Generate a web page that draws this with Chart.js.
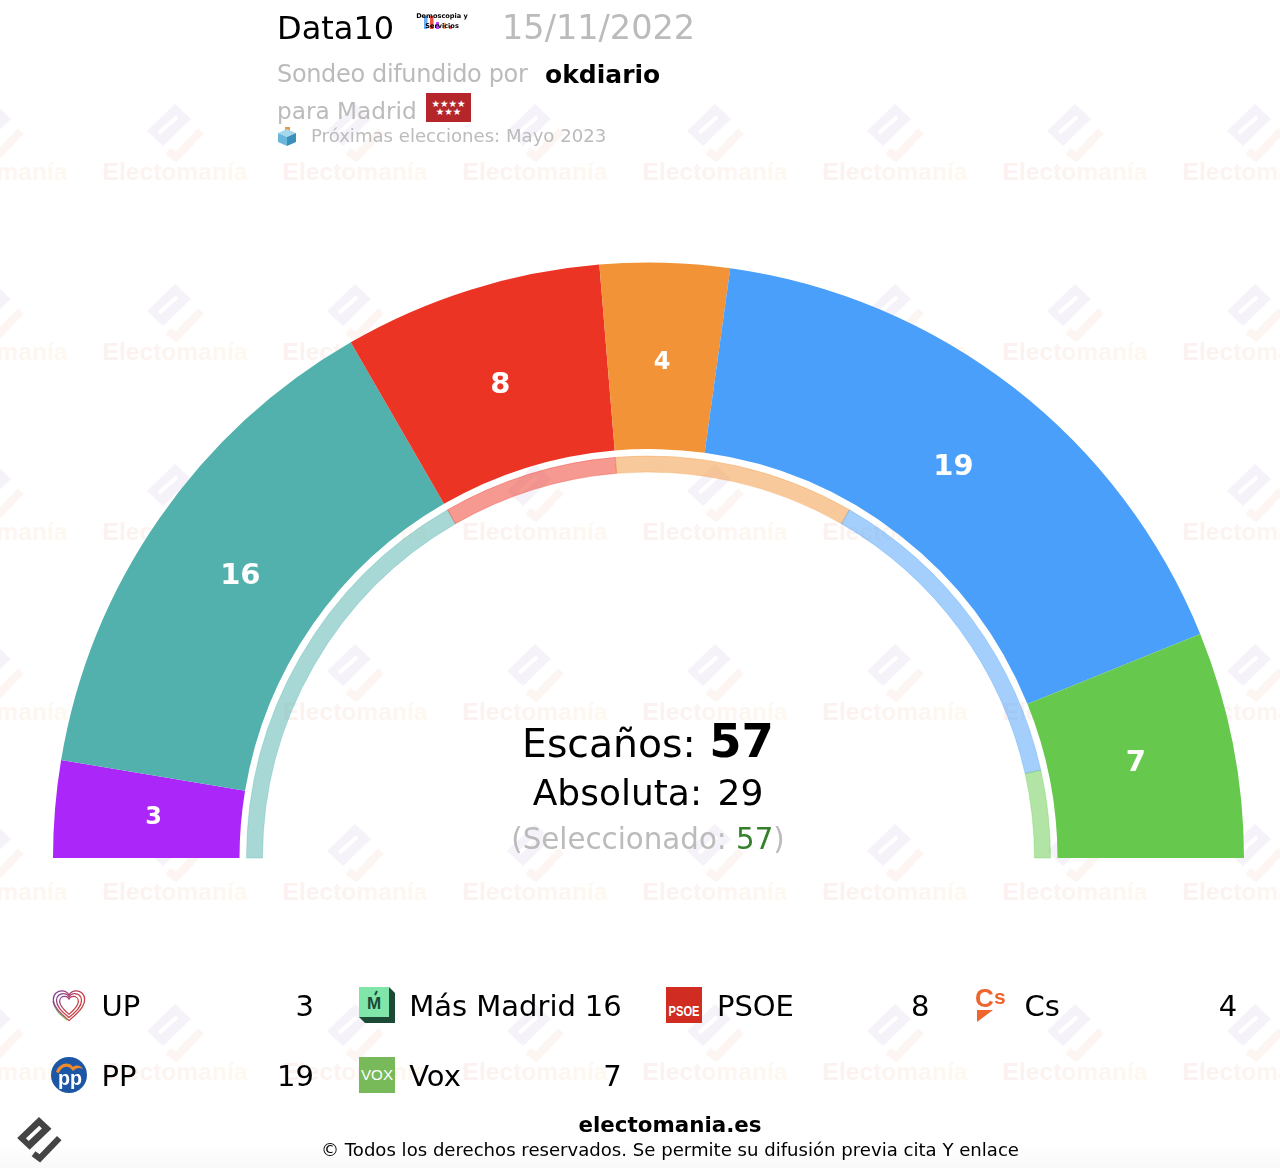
<!DOCTYPE html>
<html lang="es"><head><meta charset="utf-8">
<script src="https://cdn.jsdelivr.net/npm/chart.js@4"></script>
<style>
html,body{margin:0;padding:0;background:#fff;width:1280px;height:1168px;overflow:hidden;font-family:"DejaVu Sans",sans-serif}
#stage{position:relative;width:1280px;height:1168px;overflow:hidden}
#fade{position:absolute;left:0;right:0;bottom:0;height:26px;background:linear-gradient(#ffffff00,#f9f9f9)}
svg.bg,canvas{position:absolute;left:0;top:0}
.t{position:absolute;line-height:1;white-space:nowrap;color:#000}
.g{color:#bbb}
.c{transform:translateX(-50%)}
.r{transform:translateX(-100%)}
svg.i{position:absolute;overflow:visible}
</style></head><body>
<div id="stage">
<svg class="bg" id="wm" width="1280" height="1168"></svg>
<div id="fade"></div>
<canvas id="chart" width="1280" height="1168" style="width:1280px;height:1168px"></canvas>

<div class="t" style="left:277px;top:12px;font-size:32px">Data10</div>
<svg class="i" style="left:416px;top:10px" width="52" height="28" viewBox="0 0 52 28">
 <g opacity=".85"><rect x="8" y="6" width="3.5" height="13" fill="#499ff9"/><rect x="14" y="6" width="3.5" height="13" fill="#ec3424"/>
 <rect x="20" y="12" width="3" height="7" fill="#a927f9"/><rect x="27" y="13" width="3" height="6" fill="#f29337"/><rect x="33" y="16" width="3" height="3" fill="#ec3424"/></g>
 <text x="26" y="8" font-size="6.6" font-weight="bold" text-anchor="middle" font-family="DejaVu Sans">Demoscopia y</text>
 <text x="26" y="17.5" font-size="6.6" font-weight="bold" text-anchor="middle" font-family="DejaVu Sans">Servicios</text>
</svg>
<div class="t g" style="left:502px;top:11px;font-size:33.5px">15/11/2022</div>
<div class="t g" style="left:277px;top:62px;font-size:24px;letter-spacing:-.35px">Sondeo difundido por</div>
<div class="t" style="left:545px;top:62px;font-size:25px;font-weight:bold">okdiario</div>
<div class="t g" style="left:277px;top:99px;font-size:23.2px">para Madrid</div>
<svg class="i" style="left:426px;top:93px" width="45" height="29" viewBox="0 0 45 29">
 <rect width="45" height="29" fill="#b5262a"/>
 <text x="22.5" y="14" font-size="9.5" fill="#fff" text-anchor="middle" font-family="DejaVu Sans">★★★★</text>
 <text x="22.5" y="22" font-size="9.5" fill="#fff" text-anchor="middle" font-family="DejaVu Sans">★★★</text>
</svg>
<svg class="i" style="left:277px;top:127px" width="21" height="20" viewBox="0 0 21 20">
 <rect x="8" y="0" width="5" height="8" fill="#ee9a3a"/>
 <polygon points="1,6 10,2 19,6 10,10" fill="#a5d8ec"/><polygon points="1,6 10,10 10,19 1,15" fill="#6bb7dc"/><polygon points="19,6 10,10 10,19 19,15" fill="#3b8fbb"/>
</svg>
<div class="t g" style="left:311px;top:127px;font-size:18.1px">Próximas elecciones: Mayo 2023</div>

<div class="t c" style="left:648px;top:718px;font-size:39.3px;word-spacing:1px">Escaños: <b style="font-size:46.5px">57</b></div>
<div class="t c" style="left:648px;top:775px;font-size:36px;word-spacing:4px">Absoluta: 29</div>
<div class="t c g" style="left:648px;top:825px;font-size:29.3px">(Seleccionado: <span style="color:#35802a">57</span>)</div>

<div id="legend"></div>

<svg class="i" style="left:0;top:0" width="100" height="1168" viewBox="0 0 100 1168">
 <g transform="translate(39 1117) scale(.78)" fill="#444" stroke="none">
  <polygon points="0,0 16,15 -12,42 -28,27"/><line x1="-15" y1="29" x2="2" y2="13" stroke="#fff" stroke-width="5"/>
  <polyline points="-7,47 1,53 26,27" fill="none" stroke="#444" stroke-width="8"/>
 </g>
</svg>
<div class="t c" style="left:670px;top:1114px;font-size:21.4px;font-weight:bold">electomania.es</div>
<div class="t c" style="left:670px;top:1141px;font-size:18.1px">© Todos los derechos reservados. Se permite su difusión previa cita Y enlace</div>
</div>
<script>
/* DATA */
const parties = ["UP","Más Madrid","PSOE","Cs","PP","Vox"];
const seats = [3,16,8,4,19,7];
const partyColors = ["#ab27f9","#52b1ad","#ec3424","#f29337","#499ff9","#66c94d"];
const previousSeats = [19,8,11,15,4];
const previousColors = ["#52b1ad","#ec3424","#f29337","#499ff9","#66c94d"];
const totalSeats = [57];

/* watermark */
(function(){
  const ns = [];
  ns.push('<defs><linearGradient id="tg"><stop offset="0" stop-color="#fbf1f0"/><stop offset="1" stop-color="#fef8f0"/></linearGradient></defs>');
  for(let y=-45;y<1168;y+=180){for(let x=-5;x<1300;x+=180){
    ns.push('<g transform="translate('+x+' '+(y)+')"><polygon points="0,-31 16,-16 -12,11 -28,-4" fill="#f6f2f9"/><line x1="-16" y1="-2" x2="2" y2="-18" stroke="#fff" stroke-width="4"/><polyline points="-7,16 1,22 26,-4" fill="none" stroke="#fcf5f2" stroke-width="8"/></g>');
    ns.push('<text x="'+x+'" y="'+(y+45)+'" text-anchor="middle" font-family="Liberation Sans" font-weight="bold" font-size="24.6" fill="url(#tg)">Electomanía</text>');
  }}
  document.getElementById('wm').innerHTML = ns.join('');
})();

/* legend */
const icons = {
 "UP":'<defs><linearGradient id="h" x1="0" y1="0" x2="1" y2="1"><stop offset="0" stop-color="#7a3f9d"/><stop offset=".5" stop-color="#c9404a"/><stop offset="1" stop-color="#c23b3b"/></linearGradient><linearGradient id="h2" x1="0" y1="0" x2="0" y2="1"><stop offset="0" stop-color="#7a3f9d"/><stop offset="1" stop-color="#7dbb55"/></linearGradient></defs>'+
   [1,.8,.6].map(s=>'<path transform="translate(18 18) scale('+(1.42*s)+') translate(-12 -11)" d="M12 22C5 16 1 12 1 7C1 3 4 1 7 1C9 1 11 2 12 4C13 2 15 1 17 1C20 1 23 3 23 7C23 12 19 16 12 22Z" fill="none" stroke="url(#h)" stroke-width="'+(.9/s)+'"/>').join('')+
   '<path d="M2 14C3 22 9 27 16 33" fill="none" stroke="url(#h2)" stroke-width="1.2"/>',
 "Más Madrid":'<polygon points="0,0 30,0 36,6 36,36 6,36 0,30" fill="#1d4a37"/><rect width="30" height="30" fill="#7fe5a9"/><text x="15" y="22" font-size="17" font-weight="bold" text-anchor="middle" fill="#1d4a37" font-family="Liberation Sans Narrow,Liberation Sans">M</text><line x1="18" y1="4" x2="16" y2="8" stroke="#1d4a37" stroke-width="2"/>',
 "PSOE":'<rect width="36" height="36" fill="#d02c22"/><text x="18" y="28.5" font-size="15" font-weight="bold" text-anchor="middle" fill="#fff" textLength="31" lengthAdjust="spacingAndGlyphs" font-family="Liberation Sans">PSOE</text>',
 "Cs":'<text x="1" y="20" font-size="26" font-weight="bold" fill="#ef6530" font-family="Liberation Sans">C</text><text x="20" y="17" font-size="21" font-weight="bold" fill="#ef6530" font-family="Liberation Sans">s</text><polygon points="3,23 19,23 3,35" fill="#ef6530"/>',
 "PP":'<circle cx="18" cy="18" r="18" fill="#1d56a4"/><path d="M5 15C8 6 18 4 22 10C26 7 30 9 32 12C28 10 25 11 22 14C18 8 11 8 8 16Z" fill="#f08a2c"/><text x="19" y="28" font-size="21" font-weight="bold" text-anchor="middle" fill="#fff" font-family="Liberation Sans" textLength="24" lengthAdjust="spacingAndGlyphs">pp</text>',
 "Vox":'<rect width="36" height="36" fill="#78b95a"/><text x="18" y="23" font-size="15" text-anchor="middle" fill="#fff" font-family="Liberation Sans" textLength="32" lengthAdjust="spacingAndGlyphs">VOX</text>'
};
const lg = document.getElementById('legend');
parties.forEach((p,i)=>{
  const col=i%4, row=Math.floor(i/4);
  const x=51+307.7*col, ty=991.5+70*row, iy=987+70*row;
  lg.insertAdjacentHTML('beforeend',
   '<svg class="i" style="left:'+x+'px;top:'+iy+'px" width="36" height="36" viewBox="0 0 36 36">'+icons[p]+'</svg>'+
   '<div class="t" style="left:'+(x+50.5)+'px;top:'+ty+'px;font-size:29px">'+p+'</div>'+
   '<div class="t r" style="left:'+(x+263)+'px;top:'+ty+'px;font-size:29px">'+seats[i]+'</div>');
});

/* value labels on the outer ring */
const valueLabels = {
  id:'valueLabels',
  afterDatasetsDraw(chart){
    const ctx=chart.ctx, meta=chart.getDatasetMeta(0);
    ctx.save();
    ctx.fillStyle='#fff';ctx.textAlign='center';ctx.textBaseline='middle';
    meta.data.forEach((arc,i)=>{
      const a=(arc.startAngle+arc.endAngle)/2;
      const r=arc.innerRadius+(arc.outerRadius-arc.innerRadius)*0.47;
      const v=seats[i];
      ctx.font='bold '+(v<5?24:29)+'px "DejaVu Sans"';
      ctx.fillText(String(v),arc.x+r*Math.cos(a),arc.y+r*Math.sin(a)+1);
    });
    ctx.restore();
  }
};

new Chart(document.getElementById('chart'),{
  type:'doughnut',
  data:{labels:parties,datasets:[
    {data:seats,backgroundColor:partyColors,borderWidth:0,weight:186.5},
    {data:totalSeats,backgroundColor:'rgba(0,0,0,0)',borderWidth:0,weight:7},
    {data:previousSeats,backgroundColor:previousColors.map(c=>c+'80'),borderColor:previousColors.map(c=>c+'55'),borderWidth:1,weight:16}
  ]},
  options:{
    responsive:false,animation:false,devicePixelRatio:1,
    rotation:-90,circumference:180,cutout:'64.82%',
    layout:{padding:{left:53,right:36,top:262.5,bottom:310}},
    events:[],
    plugins:{legend:{display:false},tooltip:{enabled:false},title:{display:false}}
  },
  plugins:[valueLabels]
});
</script>
</body></html>
